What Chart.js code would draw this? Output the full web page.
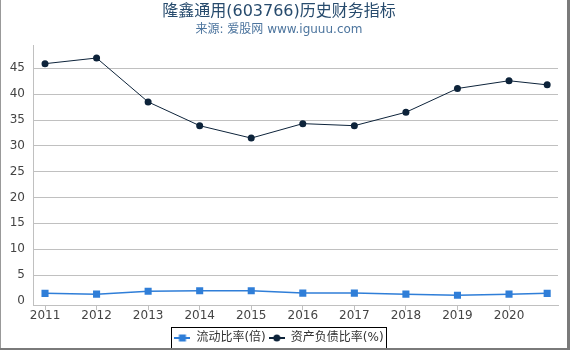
<!DOCTYPE html>
<html>
<head>
<meta charset="utf-8">
<script src="https://cdn.jsdelivr.net/npm/chart.js@4.4.1/dist/chart.umd.min.js"></script>
<style>
  html, body { margin: 0; padding: 0; background: #fff; }
  #wrap { width: 570px; height: 350px; position: relative; }
</style>
</head>
<body>
<div id="wrap"><canvas id="grafico" width="570" height="350"></canvas></div>
<script>
// datos
const anios = [2011, 2012, 2013, 2014, 2015, 2016, 2017, 2018, 2019, 2020];
const periodos = [2011, 2012, 2013, 2014, 2015, 2016, 2017, 2018, 2019, 2020, 2020.74];
const liquidez = [1.45, 1.3, 1.85, 1.95, 1.95, 1.5, 1.5, 1.3, 1.1, 1.3, 1.45];
const endeudamiento = [45.9, 47.0, 38.5, 33.9, 31.5, 34.3, 33.9, 36.5, 41.1, 42.6, 41.8];
const nombres = ['流动比率(倍)', '资产负债比率(%)'];

const fuente = 'DejaVu Sans, "Noto Sans CJK SC", sans-serif';

// icono de leyenda: línea con marcador
function icono(color, forma) {
    const c = document.createElement('canvas');
    c.width = 16; c.height = 10;
    const g = c.getContext('2d');
    g.strokeStyle = color; g.lineWidth = 2;
    g.beginPath(); g.moveTo(0, 5); g.lineTo(16, 5); g.stroke();
    g.fillStyle = color;
    if (forma === 'rect') g.fillRect(4.5, 1.5, 7, 7);
    else { g.beginPath(); g.arc(8, 5, 3.5, 0, Math.PI * 2); g.fill(); }
    return c;
}

const marco = {
    id: 'marco',
    afterDraw(chart) {
        const ctx = chart.ctx;
        const cajas = chart.legend.legendHitBoxes;
        if (cajas && cajas.length) {
            const l = Math.min(...cajas.map(b => b.left)) - 3;
            const r = Math.max(...cajas.map(b => b.left + b.width)) + 3;
            const cy = cajas[0].top + cajas[0].height / 2;
            ctx.save();
            ctx.strokeStyle = '#000';
            ctx.lineWidth = 1;
            ctx.strokeRect(Math.round(l) + 0.5, Math.round(cy - 11) + 0.5, Math.round(r - l), 22);
            ctx.restore();
        }
        ctx.save();
        ctx.fillStyle = '#999';
        ctx.fillRect(0, 0, 1, 350);
        ctx.fillStyle = '#7a7a7a';
        ctx.fillRect(567, 0, 3, 350);
        ctx.fillRect(0, 348, 570, 2);
        ctx.restore();
    }
};

new Chart(document.getElementById('grafico').getContext('2d'), {
    type: 'line',
    data: {
        datasets: [{
            label: nombres[0],
            data: periodos.map((x, i) => ({ x: x, y: liquidez[i] })),
            borderColor: '#2f7ed8',
            backgroundColor: '#2f7ed8',
            borderWidth: 1.5,
            pointStyle: 'rect',
            pointRadius: 5,
            pointBorderWidth: 0,
            tension: 0
        }, {
            label: nombres[1],
            data: periodos.map((x, i) => ({ x: x, y: endeudamiento[i] })),
            borderColor: '#0d233a',
            backgroundColor: '#0d233a',
            borderWidth: 1,
            pointStyle: 'circle',
            pointRadius: 3.5,
            pointBorderWidth: 0,
            tension: 0
        }]
    },
    options: {
        responsive: false,
        animation: false,
        layout: { padding: { left: 0, right: 12, top: 0, bottom: -4 } },
        scales: {
            x: {
                type: 'linear',
                min: 2010.767,
                max: 2020.95,
                afterBuildTicks: s => { s.ticks = anios.map(v => ({ value: v })); },
                afterFit: s => { s.height = 24; },
                grid: { display: true, drawOnChartArea: false, color: '#c0c0c0', tickLength: 5 },
                border: { color: '#c0c0c0' },
                ticks: {
                    color: '#444',
                    padding: -1,
                    maxRotation: 0,
                    autoSkip: false,
                    font: { family: fuente, size: 12 },
                    callback: v => String(v)
                }
            },
            y: {
                min: -0.8,
                max: 49.4,
                afterBuildTicks: s => { s.ticks = [0, 5, 10, 15, 20, 25, 30, 35, 40, 45].map(v => ({ value: v })); },
                afterFit: s => { s.width = 33; },
                grid: {
                    color: ctx => ctx.tick && ctx.tick.value === 0 ? 'rgba(0,0,0,0)' : '#c0c0c0',
                    tickLength: 0
                },
                border: { color: '#c0c0c0' },
                ticks: {
                    color: '#444',
                    padding: 8,
                    autoSkip: false,
                    font: { family: fuente, size: 12 }
                }
            }
        },
        plugins: {
            title: {
                display: true,
                text: '隆鑫通用(603766)历史财务指标',
                color: '#274b6d',
                font: { family: fuente, size: 16, weight: 'normal' },
                padding: { top: 2, bottom: 0 }
            },
            subtitle: {
                display: true,
                text: '来源: 爱股网 www.iguuu.com',
                color: '#4d759e',
                font: { family: fuente, size: 12 },
                padding: { top: 1, bottom: 9 }
            },
            legend: {
                position: 'bottom',
                labels: {
                    usePointStyle: true,
                    pointStyleWidth: 16,
                    boxHeight: 10,
                    padding: 3,
                    color: '#333',
                    font: { family: fuente, size: 12 },
                    generateLabels: chart => chart.data.datasets.map((d, i) => ({
                        text: d.label,
                        fontColor: '#333',
                        pointStyle: icono(d.borderColor, d.pointStyle),
                        datasetIndex: i,
                        lineWidth: 0,
                        hidden: false
                    }))
                }
            },
            tooltip: { enabled: false }
        }
    },
    plugins: [marco]
});
</script>
</body>
</html>
